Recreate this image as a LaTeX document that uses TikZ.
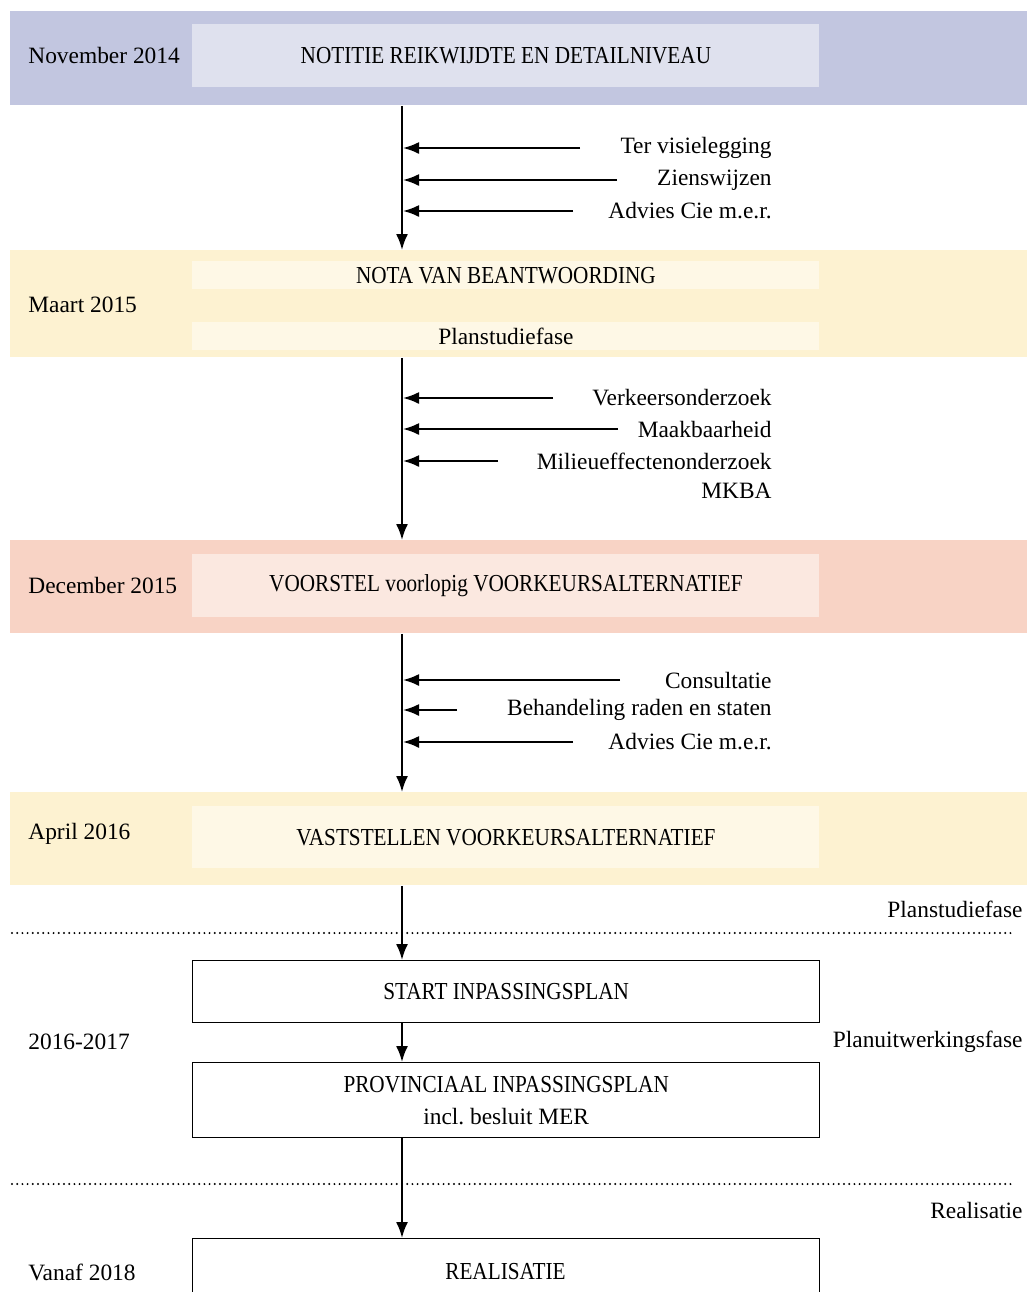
\documentclass[tikz,border=0pt]{standalone}
\usepackage{fontspec}
\setmainfont{Liberation Serif}
\newfontfamily\capsfont[FakeStretch=0.87]{Liberation Serif}
\newcommand\capstext{\capsfont\fontsize{12.2}{14}\selectfont}
\usetikzlibrary{arrows.meta}
\definecolor{blueband}{HTML}{C2C6E0}
\definecolor{bluebox}{HTML}{DFE1EE}
\definecolor{yellowband}{HTML}{FDF2D1}
\definecolor{yellowbox}{HTML}{FEF8E6}
\definecolor{redband}{HTML}{F8D3C5}
\definecolor{redbox}{HTML}{FBE8E0}
\frenchspacing
\begin{document}
\begin{tikzpicture}[x=0.5pt, y=-0.5pt, font=\fontsize{11.7}{14}\selectfont,
    band/.style = {rectangle, anchor=north west, minimum width=508.5pt, inner sep=0pt},
    inner/.style = {rectangle, anchor=north west, minimum width=313.5pt, inner sep=0pt},
    main/.style = {draw, rectangle, anchor=north west, minimum width=313.5pt, line width=0.7pt, align=center},
    lbl/.style = {inner sep=0pt},
    flow/.style = {-{Latex[length=8pt, width=6pt]}, line width=1pt},
    phase/.style = {line width=1.1pt, line cap=round, dash pattern=on 0pt off 2.6pt}]
    \useasboundingbox (0,0) rectangle (1027,1292);
    \clip (0,0) rectangle (1027,1292);
    \coordinate (spine) at (402,0);
    % bands
    \node[band, fill=blueband, minimum height=47pt] (1) at (10,11) {};
    \node[inner, fill=bluebox, minimum height=31.5pt] (1a) at (192,24) {\capstext NOTITIE REIKWIJDTE EN DETAILNIVEAU};
    \node[lbl, anchor=west] (d1) at (28,55) {November 2014};
    \node[band, fill=yellowband, minimum height=53.5pt] (2) at (10,250) {};
    \node[inner, fill=yellowbox, minimum height=14pt] (2a) at (192,261) {\capstext NOTA VAN BEANTWOORDING};
    \node[inner, fill=yellowbox, minimum height=14pt] (2b) at (192,322) {Planstudiefase};
    \node[lbl, anchor=west] (d2) at (28,305) {Maart 2015};
    \node[band, fill=redband, minimum height=46.5pt] (3) at (10,540) {};
    \node[inner, fill=redbox, minimum height=31.5pt] (3a) at (192,554) {\capstext VOORSTEL voorlopig VOORKEURSALTERNATIEF};
    \node[lbl, anchor=west] (d3) at (28,585) {December 2015};
    \node[band, fill=yellowband, minimum height=46.5pt] (4) at (10,792) {};
    \node[inner, fill=yellowbox, minimum height=31pt] (4a) at (192,806) {\capstext VASTSTELLEN VOORKEURSALTERNATIEF};
    \node[lbl, anchor=west] (d4) at (28,834) {April 2016};
    % phase lines
    \coordinate (p1l) at (12,933);
    \coordinate (p1r) at (1015,933);
    \coordinate (p2l) at (12,1184);
    \coordinate (p2r) at (1015,1184);
    \draw[phase] (p1l) -- (p1r);
    \draw[phase] (p2l) -- (p2r);
    \node[lbl, anchor=east] (f1) at (1023,909) {Planstudiefase};
    \node[lbl, anchor=east] (f2) at (1023,1042) {Planuitwerkingsfase};
    \node[lbl, anchor=east] (f3) at (1023,1210) {Realisatie};
    % boxes
    \node[main, minimum height=31pt] (5) at (192,960) {\capstext START INPASSINGSPLAN};
    \node[main, minimum height=37.5pt] (6) at (192,1062) {\capstext PROVINCIAAL INPASSINGSPLAN\\[2pt] incl. besluit MER};
    \node[main, minimum height=50pt] (7) at (192,1238) {};
    \node (7a) at (505.5,1272) {\capstext REALISATIE};
    \node[lbl, anchor=west] (d5) at (28,1042) {2016-2017};
    \node[lbl, anchor=west] (d6) at (28,1272) {Vanaf 2018};
    % main flow
    \draw[flow] (1.south -| spine) -- (2.north -| spine);
    \draw[flow] (2.south -| spine) -- (3.north -| spine);
    \draw[flow] (3.south -| spine) -- (4.north -| spine);
    \draw[flow] (4.south -| spine) -- (5.north -| spine);
    \draw[flow] (5.south -| spine) -- (6.north -| spine);
    \draw[flow] (6.south -| spine) -- (7.north -| spine);
    % inputs
    \foreach \y/\x/\t [count=\i] in {148/580/Ter visielegging, 180/617/Zienswijzen, 211/573/Advies Cie m.e.r.,
        398/553/Verkeersonderzoek, 429/618/Maakbaarheid, 461/498/Milieueffectenonderzoek,
        680/620/Consultatie, 710/457/Behandeling raden en staten, 742/573/Advies Cie m.e.r.} {
        \node[lbl, anchor=east] (t\i) at (772,\y) {\t};
        \coordinate (s\i) at (\x,\y);
        \coordinate (e\i) at (403,\y);
        \draw[flow] (s\i) -- (e\i);
    }
    \node[lbl, anchor=east] (t10) at (772,491) {MKBA};
\end{tikzpicture}
\end{document}
